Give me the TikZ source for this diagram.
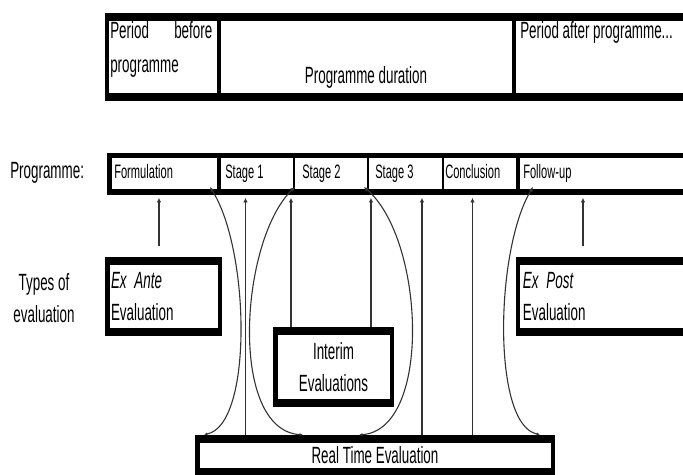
\documentclass[tikz,border=0pt]{standalone}
\usepackage{fontspec}
\setmainfont[FakeStretch=0.571]{Liberation Sans}
\usetikzlibrary{arrows.meta,calc}
\newdimen\pxu \pxu=0.75pt
\tikzset{
  evalbox/.style={draw, line width=4.5\pxu, inner sep=0pt,
    path picture={
      \fill (path picture bounding box.north west) rectangle ([yshift=-6\pxu]path picture bounding box.north east);
      \fill ([yshift=6\pxu]path picture bounding box.south west) rectangle (path picture bounding box.south east);}},
  wire/.style={draw=black!80, line width=1.1\pxu},
  uparrow/.style={-{Latex[length=3.5pt,width=3.5pt]}, shorten >=2.8\pxu},
  bothtips/.style={{Latex[length=3.5pt,width=3.5pt]}-{Latex[length=2.4pt,width=2.4pt]}, shorten >=2.2\pxu},
  lbl/.style={inner sep=0pt, anchor=base west},
  cell/.style={lbl, font=\fontsize{14.6}{17}\selectfont},
}
\begin{document}
\begin{tikzpicture}[x=0.75pt, y=-0.75pt, font=\fontsize{17.6}{24}\selectfont]
  \useasboundingbox (0,0) rectangle (683,475);

  \fill (105,13) rectangle (690,21);
  \fill (105,93) rectangle (690,101);
  \fill (105,13) rectangle (109,101);
  \fill (216.5,13) rectangle (220.5,101);
  \fill (512,13) rectangle (516,101);
  \node[inner sep=0pt, anchor=north west, text width=102\pxu, align=left] (before) at (110,21) {Period\hfill before\\[2pt]programme};
  \node[lbl, anchor=base] (during) at (366,83) {Programme duration};
  \node[lbl] (after) at (520,38) {Period after programme...};

  \node[draw, line width=5.6\pxu, minimum width=580.4\pxu, minimum height=36.7\pxu, inner sep=0pt] (prog) at (399.8,173.85) {};
  \draw[line width=4\pxu] (prog.north -| 219,0) -- (prog.south -| 219,0);
  \draw[line width=4\pxu] (prog.north -| 517.5,0) -- (prog.south -| 517.5,0);
  \foreach \x in {294,368,443}
    \draw[line width=1.2\pxu] (prog.north -| \x,0) -- (prog.south -| \x,0);

  \node[lbl] (prglabel) at (10,178) {Programme:};
  \node[cell] (fml) at (114,178) {Formulation};
  \node[cell] (st1) at (225,178) {Stage 1};
  \node[cell] (st2) at (302,178) {Stage 2};
  \node[cell] (st3) at (375,178) {Stage 3};
  \node[cell] (concl) at (445,178) {Conclusion};
  \node[cell] (follow) at (523,178) {Follow-up};

  \node[align=center, inner sep=0pt] (types) at (44,298) {Types of\\evaluation};

  \node[evalbox, minimum width=112.5\pxu, minimum height=74.5\pxu, text width=105\pxu, align=left] (exante) at (163.5,296.5) {\textit{Ex Ante}\\Evaluation};
  \node[evalbox, minimum width=171.75\pxu, minimum height=74.5\pxu, text width=162.25\pxu, align=left] (expost) at (604.1,296.5) {\textit{Ex Post}\\Evaluation};
  \node[evalbox, minimum width=116.5\pxu, minimum height=75.5\pxu, align=center] (interim) at (333.5,367) {Interim\\Evaluations};
  \node[evalbox, minimum width=355.5\pxu, minimum height=36.5\pxu] (realtime) at (375,455.5) {Real Time Evaluation};

  \draw[wire, uparrow, shorten <=11.25\pxu] (exante.north -| 159,0) -- (prog.south -| 159,0);
  \draw[wire, uparrow, shorten <=11.25\pxu] (expost.north -| 583,0) -- (prog.south -| 583,0);
  \foreach \x in {291,371}
    \draw[wire, uparrow] (interim.north -| \x,0) -- (prog.south -| \x,0);
  \foreach \x in {245.5,422,472.5}
    \draw[wire, uparrow] (realtime.north -| \x,0) -- (prog.south -| \x,0);

  \draw[wire, bothtips] ($(prog.south -| 210,0)+(0,-8)$) .. controls (250,250) and (253,425) .. (realtime.north -| 202,0);
  \draw[wire, bothtips] ($(prog.south -| 295,0)+(0,-8)$) .. controls (240,240) and (228,430) .. (realtime.north -| 305,0);
  \draw[wire, bothtips] ($(prog.south -| 364,0)+(0,-8)$) .. controls (425,240) and (432,430) .. (realtime.north -| 357,0);
  \draw[wire, bothtips] ($(prog.south -| 533,0)+(0,-8)$) .. controls (495,250) and (492,425) .. (realtime.north -| 542,0);
\end{tikzpicture}
\end{document}
